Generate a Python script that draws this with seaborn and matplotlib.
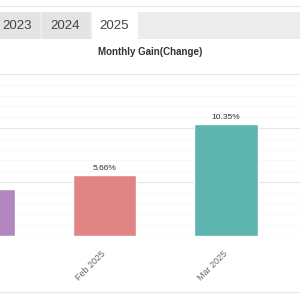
import seaborn as sns
import matplotlib.pyplot as plt
import matplotlib.patches as mpatches
import pandas as pd

# data
months = ["Jan 2025", "Feb 2025", "Mar 2025"]
gains = [4.35, 5.66, 10.35]
bar_colors = ["#b386bf", "#e08484", "#5eb4af"]
tabs = ["2023", "2024", "2025"]
active_tab = "2025"

sns.set_style("white")
plt.rcParams["font.family"] = ["Liberation Sans", "DejaVu Sans"]

df = pd.DataFrame({"month": months, "gain": gains})

W, H = 300, 300
fig = plt.figure(figsize=(3, 3), dpi=100)

# plot area in pixels (partly off the left/right of the crop)
px_per_cat = 121.5
left_px = 104.5 - 1.5 * px_per_cat
right_px = 302
top_px, bottom_px = 74, 236
ax = fig.add_axes([left_px / W, 1 - bottom_px / H,
                   (right_px - left_px) / W, (bottom_px - top_px) / H])

sns.barplot(data=df, x="month", y="gain", hue="month", palette=bar_colors,
            width=0.52, legend=False, ax=ax, saturation=1, zorder=3)
for c in ax.containers:
    ax.bar_label(c, fmt="%.2f%%", fontsize=6, color="#333333", padding=2)

ax.set_xlim(-0.5, -0.5 + (right_px - left_px) / px_per_cat)
ax.set_ylim(0, 15)
ax.set_yticks([0, 5, 10, 15])
ax.set_yticks(range(0, 16), minor=True)
ax.yaxis.grid(True, which="major", color="#e6e6e6", lw=0.8, zorder=0)
ax.yaxis.grid(True, which="minor", color="#f7f7f7", lw=0.6, zorder=0)
ax.tick_params(axis="y", which="both", left=False, labelleft=False)
ax.tick_params(axis="x", length=0, pad=12, labelsize=6.5, labelcolor="#666666")
for lab in ax.get_xticklabels():
    lab.set_rotation(45)
    lab.set_ha("right")
    lab.set_va("center")
    lab.set_rotation_mode("anchor")
ax.set_xlabel("")
ax.set_ylabel("")
for s in ax.spines.values():
    s.set_visible(False)
ax.axhline(0, color="#dddddd", lw=0.8, zorder=4)

# title
fig.text(150 / W, 1 - 52 / H, "Monthly Gain(Change)", ha="center", va="center",
         fontsize=7, fontweight="bold", color="#333333")

# tab bar
def fx(p):
    return p / W

def fy(p):
    return 1 - p / H

fig.add_artist(plt.Line2D([0, 1], [fy(6), fy(6)], color="#e6e6e6", lw=0.8))
fig.add_artist(mpatches.Rectangle((0, fy(39)), 1, (39 - 12) / H,
                                  color="#ececec", lw=0))
tab_spans = [(-10, 40), (42, 90), (92, 138)]
for name, (x0, x1) in zip(tabs, tab_spans):
    face = "#ffffff" if name == active_tab else "#e4e4e4"
    fig.add_artist(mpatches.Rectangle((fx(x0), fy(39)), (x1 - x0) / W,
                                      (39 - 12) / H, color=face, lw=0))
tab_centers = [17, 65, 114]
for name, cx in zip(tabs, tab_centers):
    fig.text(fx(cx), fy(26), name, ha="center", va="center",
             fontsize=9.5, color="#444444")

fig.add_artist(plt.Line2D([0, 1], [fy(292), fy(292)], color="#e6e6e6", lw=0.8))

fig.savefig("out.png", dpi=100)
